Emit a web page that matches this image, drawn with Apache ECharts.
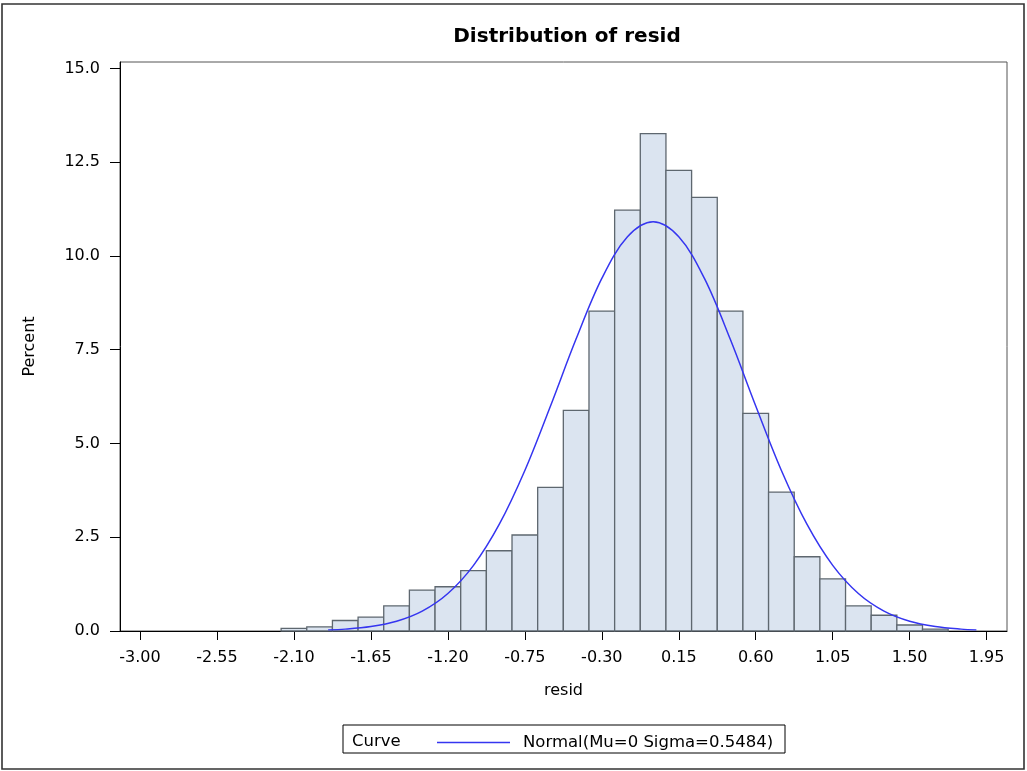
<!DOCTYPE html>
<html>
<head>
<meta charset="utf-8">
<title>Distribution of resid</title>
<script src="https://cdn.jsdelivr.net/npm/echarts@6/dist/echarts.min.js"></script>
<style>
  html, body { margin: 0; padding: 0; background: #fff; }
  #chart { width: 1027px; height: 771px; }
</style>
</head>
<body>
<div id="chart"></div>
<script>
// histogram bins (midpoints) and percents
var binWidth = 0.15;
var binMids = [-2.10, -1.95, -1.80, -1.65, -1.50, -1.35, -1.20, -1.05, -0.90, -0.75,
               -0.60, -0.45, -0.30, -0.15, 0.00, 0.15, 0.30, 0.45, 0.60, 0.75,
               0.90, 1.05, 1.20, 1.35, 1.50, 1.65];
var binPct = [0.07, 0.11, 0.28, 0.37, 0.67, 1.09, 1.18, 1.61, 2.14, 2.56,
              3.83, 5.88, 8.53, 11.22, 13.26, 12.28, 11.56, 8.53, 5.80, 3.70,
              1.98, 1.39, 0.67, 0.42, 0.16, 0.05];

// normal curve
var curveX = [-1.90, -1.80, -1.65, -1.50, -1.35, -1.20, -1.05, -0.90, -0.75, -0.60,
              -0.45, -0.30, -0.15, 0.00, 0.15, 0.30, 0.45, 0.60, 0.75, 0.90,
              1.05, 1.20, 1.35, 1.50, 1.65, 1.80, 1.89];
var curveY = [0.03, 0.05, 0.12, 0.26, 0.53, 1.00, 1.75, 2.84, 4.28, 6.00,
              7.79, 9.40, 10.51, 10.91, 10.51, 9.40, 7.79, 6.00, 4.28, 2.84,
              1.75, 1.00, 0.53, 0.26, 0.12, 0.05, 0.03];

// tick labels
var xTicks = [-3.00, -2.55, -2.10, -1.65, -1.20, -0.75, -0.30, 0.15, 0.60, 1.05, 1.50, 1.95];
var yTicks = [0, 2.5, 5, 7.5, 10, 12.5, 15];

var fontFam = 'DejaVu Sans';

var barData = [];
for (var i = 0; i < binMids.length; i++) {
  barData.push([binMids[i], binPct[i]]);
}
var lineData = [];
for (var j = 0; j < curveX.length; j++) {
  lineData.push([curveX[j], curveY[j]]);
}

var chart = echarts.init(document.getElementById('chart'));
var option = {
  backgroundColor: '#fff',
  animation: false,
  title: {
    text: 'Distribution of resid',
    left: 562,
    textAlign: 'center',
    top: 22,
    textStyle: { fontFamily: fontFam, fontSize: 20, fontWeight: 'bold', color: '#000' }
  },
  grid: {
    left: 120, top: 62, right: 20, bottom: 140,
    show: true, borderColor: '#555', borderWidth: 1
  },
  legend: {
    left: 432,
    top: 729,
    itemWidth: 73,
    itemHeight: 1.5,
    icon: 'rect',
    data: ['Normal(Mu=0 Sigma=0.5484)'],
    textStyle: { fontFamily: fontFam, fontSize: 16.5, color: '#000', padding: [0, 0, 0, 8] }
  },
  xAxis: {
    type: 'value',
    min: -3.117,
    max: 2.069,
    name: 'resid',
    nameLocation: 'middle',
    nameGap: 52,
    nameTextStyle: { fontFamily: fontFam, fontSize: 16, color: '#000' },
    axisLine: { show: true, onZero: false, lineStyle: { color: '#000', width: 1 } },
    axisTick: { show: true, length: 9, customValues: xTicks, lineStyle: { color: '#000' } },
    axisLabel: {
      customValues: xTicks,
      margin: 19,
      fontFamily: fontFam, fontSize: 16, color: '#000',
      formatter: function (v) { return v.toFixed(2); }
    },
    splitLine: { show: false }
  },
  yAxis: {
    type: 'value',
    min: 0,
    max: 15.17,
    name: 'Percent',
    nameLocation: 'middle',
    nameGap: 82,
    nameRotate: 90,
    nameTextStyle: { fontFamily: fontFam, fontSize: 16, color: '#000' },
    axisLine: { show: true, onZero: false, lineStyle: { color: '#000', width: 1 } },
    axisTick: { show: true, length: 10, customValues: yTicks, lineStyle: { color: '#000' } },
    axisLabel: {
      customValues: yTicks,
      margin: 20,
      fontFamily: fontFam, fontSize: 16, color: '#000',
      formatter: function (v) { return v.toFixed(1); }
    },
    splitLine: { show: false }
  },
  series: [
    {
      type: 'custom',
      name: 'hist',
      data: barData,
      z: 2,
      renderItem: function (params, api) {
        var mid = api.value(0);
        var pct = api.value(1);
        var p0 = api.coord([mid - binWidth / 2, pct]);
        var p1 = api.coord([mid + binWidth / 2, 0]);
        return {
          type: 'rect',
          shape: { x: p0[0], y: p0[1], width: p1[0] - p0[0], height: p1[1] - p0[1] },
          style: { fill: '#dbe4f0', stroke: '#5e676f', lineWidth: 1.3 }
        };
      }
    },
    {
      type: 'line',
      name: 'Normal(Mu=0 Sigma=0.5484)',
      data: lineData,
      smooth: 0.35,
      symbol: 'none',
      z: 5,
      lineStyle: { color: '#3535f0', width: 1.5 },
      itemStyle: { color: '#3535f0' }
    }
  ],
  graphic: [
    {
      type: 'rect',
      shape: { x: 2, y: 4, width: 1022, height: 765 },
      style: { fill: 'none', stroke: '#333', lineWidth: 1.6 },
      silent: true
    },
    {
      type: 'rect',
      shape: { x: 343, y: 725, width: 442, height: 28 },
      style: { fill: 'none', stroke: '#000', lineWidth: 1 },
      silent: true
    },
    {
      type: 'text',
      left: 352,
      top: 733,
      style: { text: 'Curve', fontFamily: fontFam, fontSize: 16.5, fill: '#000' },
      silent: true
    }
  ]
};
chart.setOption(option);
</script>
</body>
</html>
